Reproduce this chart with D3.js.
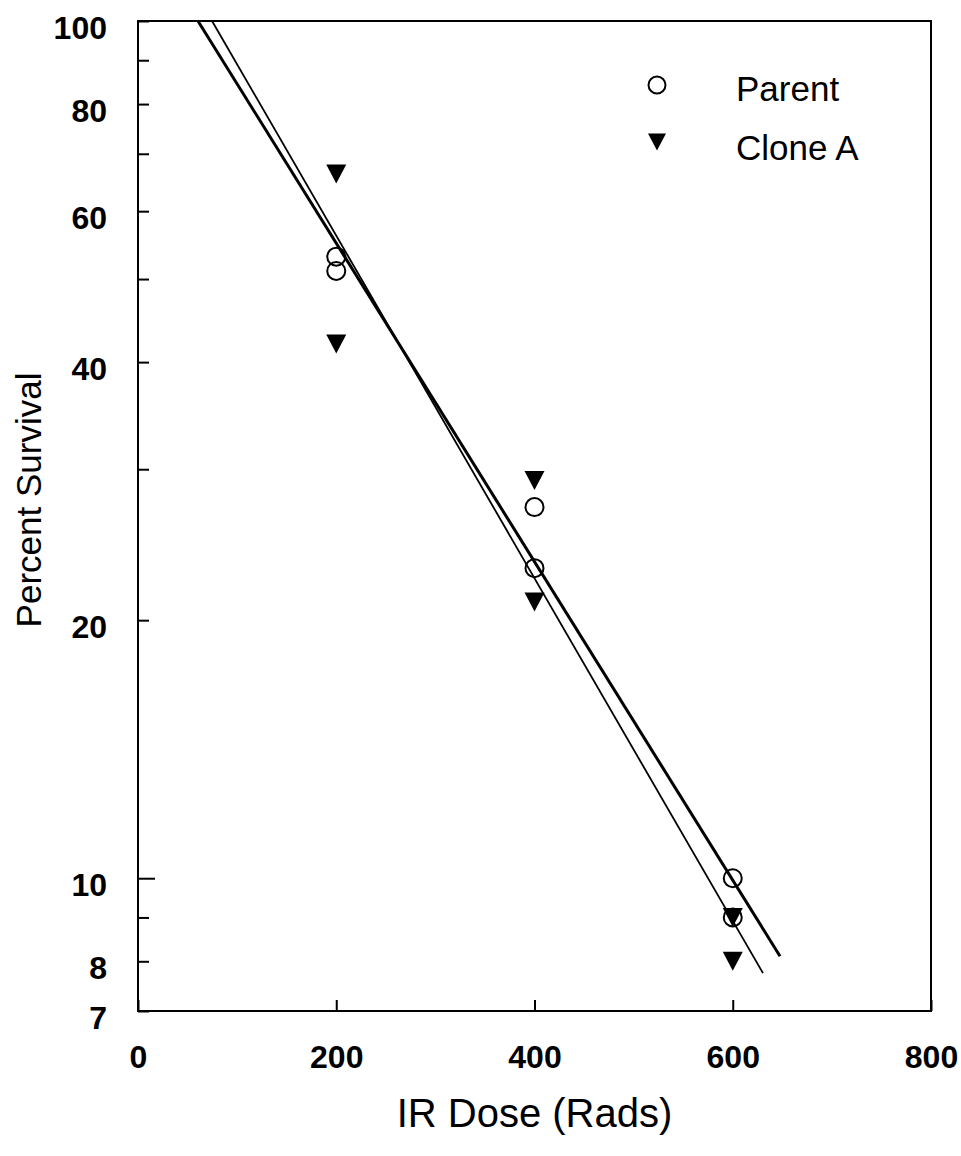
<!DOCTYPE html>
<html>
<head>
<meta charset="utf-8">
<script src="https://cdn.jsdelivr.net/npm/d3@7"></script>
<style>
  html, body { margin: 0; padding: 0; background: #fff; }
  svg { display: block; font-family: "Liberation Sans", Arial, Helvetica, sans-serif; }
</style>
</head>
<body>
<svg id="chart" width="961" height="1156"></svg>
<script>
// IR dose (rads) and percent survival readings
const parentDose = [200, 200, 400, 400, 600, 600];
const parentSurvival = [53.1, 51.1, 27.1, 23.0, 10.0, 9.0];
const cloneDose = [200, 200, 400, 400, 600, 600];
const cloneSurvival = [66.3, 42.0, 29.1, 21.0, 9.0, 8.0];

// Fitted survival lines: [dose, survival] at each end
const fitThick = [[60.5, 100], [647.7, 8.11]];
const fitThin = [[74.7, 100], [630.5, 7.75]];

const xTicks = [0, 200, 400, 600, 800];
const yTicks = [7, 8, 9, 10, 20, 30, 40, 50, 60, 70, 80, 90, 100];
const yLabels = [7, 8, 10, 20, 40, 60, 80, 100];

const seriesNames = ["Parent", "Clone A"];

const svg = d3.select("#chart");
const plotLeft = 138, plotRight = 931, plotTop = 21, plotBottom = 1011;

const x = d3.scaleLinear().domain([0, 800]).range([plotLeft, plotRight]);
const y = d3.scaleLog().domain([7, 100]).range([plotBottom, plotTop]);

// Frame
svg.append("rect")
  .attr("x", plotLeft).attr("y", plotTop)
  .attr("width", plotRight - plotLeft).attr("height", plotBottom - plotTop)
  .attr("fill", "none").attr("stroke", "#000").attr("stroke-width", 2);

// Y axis: inward ticks, labels on the left
const yAxis = d3.axisLeft(y)
  .tickValues(yTicks)
  .tickSizeInner(-11).tickSizeOuter(0)
  .tickPadding(31)
  .tickFormat(d => yLabels.includes(d) ? String(d) : "");
const gy = svg.append("g").attr("transform", `translate(${plotLeft},0)`).call(yAxis);
gy.select(".domain").remove();
gy.selectAll(".tick line").attr("stroke-width", 2)
  .attr("x2", d => d === 10 ? 17 : 11);
gy.selectAll(".tick text")
  .attr("dy", null).attr("y", 17)
  .attr("fill", "#000")
  .style("font-size", "32px").style("font-weight", "bold")
  .style("font-family", "'Liberation Sans', Arial, Helvetica, sans-serif");

// X axis
const xAxis = d3.axisBottom(x)
  .tickValues(xTicks)
  .tickSizeInner(-11).tickSizeOuter(0)
  .tickFormat(d3.format("d"));
const gx = svg.append("g").attr("transform", `translate(0,${plotBottom})`).call(xAxis);
gx.select(".domain").remove();
gx.selectAll(".tick line").attr("stroke-width", 2);
gx.selectAll(".tick text")
  .attr("dy", null).attr("y", 57)
  .attr("fill", "#000")
  .style("font-size", "32px").style("font-weight", "bold")
  .style("font-family", "'Liberation Sans', Arial, Helvetica, sans-serif");

// Axis titles
svg.append("text")
  .attr("x", (plotLeft + plotRight) / 2).attr("y", 1127)
  .attr("text-anchor", "middle")
  .style("font-size", "40px")
  .text("IR Dose (Rads)");

svg.append("text")
  .attr("transform", `translate(41,500) rotate(-90)`)
  .attr("text-anchor", "middle")
  .style("font-size", "35px")
  .text("Percent Survival");

// Fit lines
const line = d3.line().x(d => x(d[0])).y(d => y(d[1]));
svg.append("path").datum(fitThick).attr("d", line)
  .attr("fill", "none").attr("stroke", "#000").attr("stroke-width", 3);
svg.append("path").datum(fitThin).attr("d", line)
  .attr("fill", "none").attr("stroke", "#000").attr("stroke-width", 1.8);

// Markers
const triPath = (cx, cy, w = 20, h = 19) =>
  `M${cx - w / 2},${cy - h / 2}L${cx + w / 2},${cy - h / 2}L${cx},${cy + h / 2}Z`;

svg.append("g").selectAll("circle")
  .data(d3.zip(parentDose, parentSurvival))
  .join("circle")
  .attr("cx", d => x(d[0])).attr("cy", d => y(d[1]))
  .attr("r", 9)
  .attr("fill", "none").attr("stroke", "#000").attr("stroke-width", 2);

svg.append("g").selectAll("path")
  .data(d3.zip(cloneDose, cloneSurvival))
  .join("path")
  .attr("d", d => triPath(x(d[0]), y(d[1])))
  .attr("fill", "#000");

// Legend
const legend = svg.append("g");
legend.append("circle").attr("cx", 657).attr("cy", 85).attr("r", 8.5)
  .attr("fill", "none").attr("stroke", "#000").attr("stroke-width", 2);
legend.append("path").attr("d", triPath(657, 142, 18, 17)).attr("fill", "#000");
legend.selectAll("text").data(seriesNames).join("text")
  .attr("x", 736).attr("y", (d, i) => 101 + i * 59)
  .style("font-size", "35px")
  .text(d => d);
</script>
</body>
</html>
